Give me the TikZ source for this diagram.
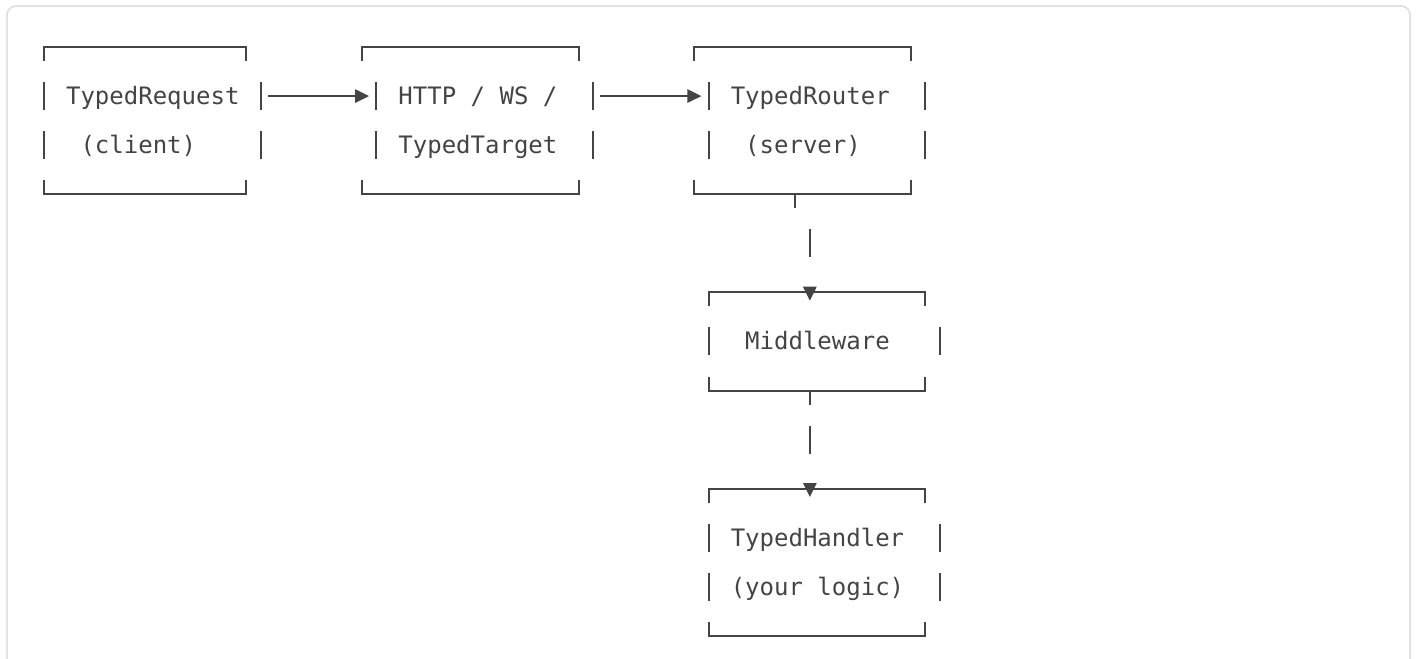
\documentclass[tikz,border=0pt]{standalone}
\usepackage{fontspec}
\newfontfamily\codefont{DejaVu Sans Mono}
\usetikzlibrary{arrows.meta}
\definecolor{ink}{HTML}{444444}
\definecolor{framegray}{HTML}{E2E2E2}

\begin{document}
\begin{tikzpicture}[x=7.225pt, y=-24.54pt]
\tikzset{txt/.style={anchor=west, inner sep=0pt, text=ink, text height=11.14pt, text depth=2.83pt, font=\codefont\fontsize{12pt}{14pt}\selectfont}}
\tikzset{rule/.style={draw=ink, line width=1pt}}
\tikzset{bars/.style={rule, dash pattern=on 13.97pt off 10.57pt}}
\tikzset{flow/.style={rule, -{Triangle[length=7pt, width=6.6pt]}}}

\useasboundingbox (-22pt,23.5pt) rectangle (686pt,-305.5pt);
\clip (-22pt,23.5pt) rectangle (686pt,-305.5pt);
\draw[framegray, line width=1pt, rounded corners=4.5pt] (-18.5pt,20.5pt) rectangle (683pt,-330pt);

\foreach \l/\r/\t/\b/\bl/\br in {0/14/0/3/0/15, 22/37/0/3/23/38, 45/60/0/3/46/61, 46/61/5/7/46/62, 46/61/9/12/46/62} {
  \draw[rule] (\l,\t+0.285) -- (\l,\t) -- (\r,\t) -- (\r,\t+0.285);
  \draw[rule] (\l,\b-0.285) -- (\l,\b) -- (\r,\b) -- (\r,\b-0.285);
  \draw[bars] (\bl,\t+0.715) -- (\bl,\b-0.715);
  \draw[bars] (\br,\t+0.715) -- (\br,\b-0.715);
}
\draw[rule] (52,3) -- (52,3.285);
\draw[rule] (53,7) -- (53,7.285);

\node[txt] (request) at (1.5,1) {TypedRequest};
\node[txt] (client) at (2.5,2) {(client)};
\node[txt] (http) at (24.5,1) {HTTP / WS /};
\node[txt] (target) at (24.5,2) {TypedTarget};
\node[txt] (router) at (47.5,1) {TypedRouter};
\node[txt] (server) at (48.5,2) {(server)};
\node[txt] (middleware) at (48.5,6) {Middleware};
\node[txt] (handler) at (47.5,10) {TypedHandler};
\node[txt] (logic) at (47.5,11) {(your logic)};

\coordinate (request-e) at (15.5,1);
\coordinate (target-w) at (22.5,1);
\coordinate (target-e) at (38.5,1);
\coordinate (router-w) at (45.5,1);
\coordinate (router-s) at (53,3.715);
\coordinate (middleware-n) at (53,5.17);
\coordinate (middleware-s) at (53,7.715);
\coordinate (handler-n) at (53,9.17);

\draw[flow] (request-e) -- (target-w);
\draw[flow] (target-e) -- (router-w);
\draw[flow, dash pattern=on 13.97pt off 40pt] (router-s) -- (middleware-n);
\draw[flow, dash pattern=on 13.97pt off 40pt] (middleware-s) -- (handler-n);
\end{tikzpicture}
\end{document}
